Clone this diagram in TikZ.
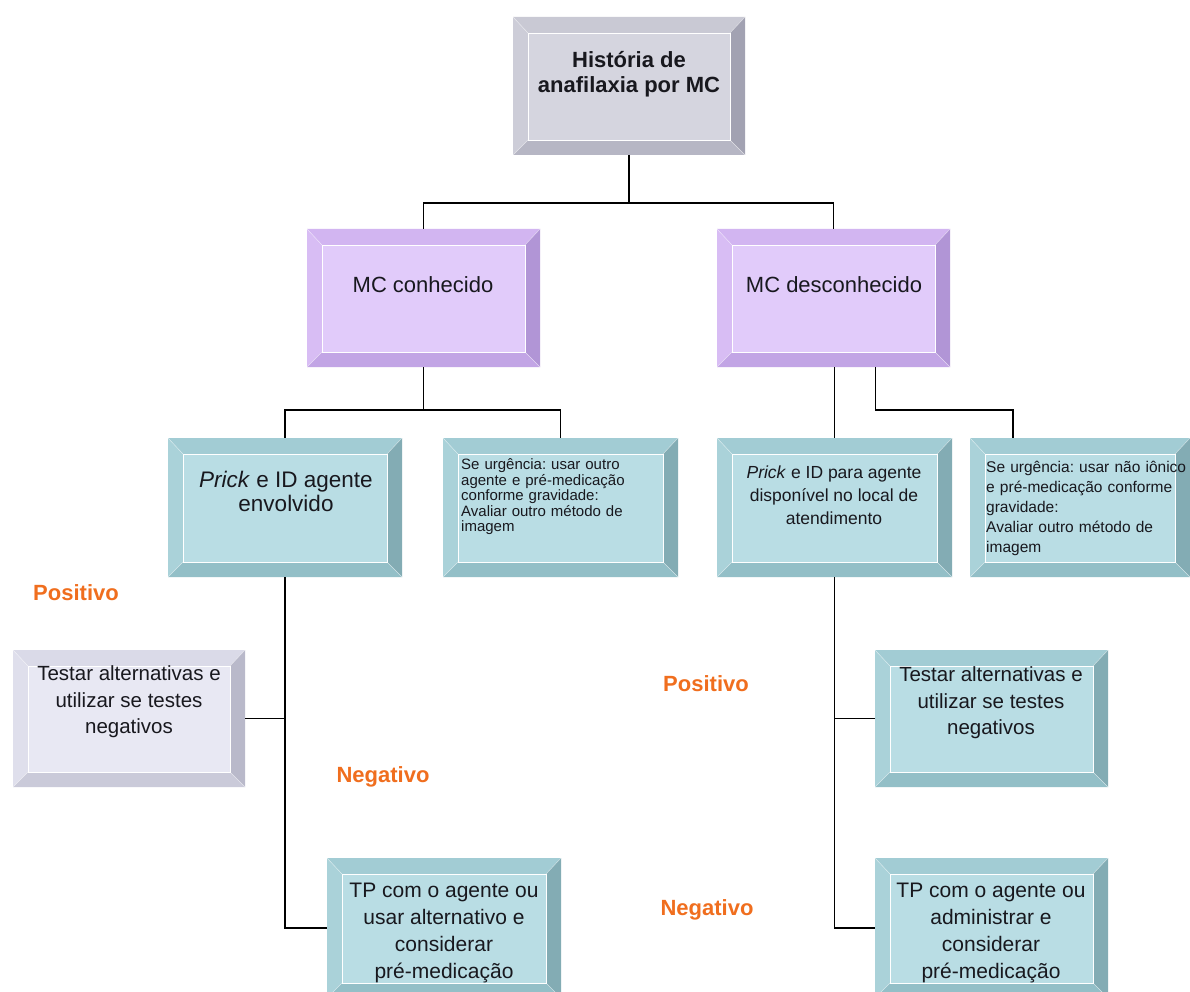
\documentclass[tikz,border=0pt]{standalone}
\usepackage{fontspec}
\setmainfont{Liberation Sans}
\usetikzlibrary{calc,fit}
\frenchspacing

% bevel colour families: face, top, left, right, bottom
\definecolor{grayF}{HTML}{D5D5DF}\definecolor{grayT}{HTML}{C9C9D4}\definecolor{grayL}{HTML}{CDCDD8}\definecolor{grayR}{HTML}{A2A2B2}\definecolor{grayB}{HTML}{B6B6C4}
\definecolor{purpF}{HTML}{E1CBFA}\definecolor{purpT}{HTML}{D2B5F1}\definecolor{purpL}{HTML}{D8BDF4}\definecolor{purpR}{HTML}{B195D6}\definecolor{purpB}{HTML}{C2A5E5}
\definecolor{tealF}{HTML}{B9DDE4}\definecolor{tealT}{HTML}{A2CCD4}\definecolor{tealL}{HTML}{AAD2D9}\definecolor{tealR}{HTML}{83ACB4}\definecolor{tealB}{HTML}{93BFC7}
\definecolor{lavF}{HTML}{E8E8F3}\definecolor{lavT}{HTML}{DADAE8}\definecolor{lavL}{HTML}{DFDFEC}\definecolor{lavR}{HTML}{B9B9CA}\definecolor{lavB}{HTML}{CACAD9}
\definecolor{txtc}{HTML}{18181E}
\definecolor{orangec}{HTML}{F06E1E}

% #1 name, #2 colour family, #3..#6 outer corners (x1,y1,x2,y2)
\newcommand\bevelbox[6]{%
  \node[fit={(#3,#4) (#5,#6)}, inner sep=0pt, outer sep=0pt] (#1) {};
  \fill[#2T] (#1.north west) -- (#1.north east) -- ($(#1.north east)+(-15,16)$) -- ($(#1.north west)+(15,16)$) -- cycle;
  \fill[#2L] (#1.north west) -- ($(#1.north west)+(15,16)$) -- ($(#1.south west)+(15,-15)$) -- (#1.south west) -- cycle;
  \fill[#2R] (#1.north east) -- (#1.south east) -- ($(#1.south east)+(-15,-15)$) -- ($(#1.north east)+(-15,16)$) -- cycle;
  \fill[#2B] (#1.south west) -- (#1.south east) -- ($(#1.south east)+(-15,-15)$) -- ($(#1.south west)+(15,-15)$) -- cycle;
  \draw[white, line width=0.5pt, opacity=0.5]
    (#1.north west) -- ($(#1.north west)+(15,16)$)
    (#1.north east) -- ($(#1.north east)+(-15,16)$)
    (#1.south west) -- ($(#1.south west)+(15,-15)$)
    (#1.south east) -- ($(#1.south east)+(-15,-15)$);
  \fill[#2F] ($(#1.north west)+(15,16)$) rectangle ($(#1.south east)+(-15,-15)$);
  \draw[white, line width=0.9pt] ($(#1.north west)+(15,16)$) rectangle ($(#1.south east)+(-15,-15)$);
}

\begin{document}
\begin{tikzpicture}[x=1pt, y=-1pt,
  conn/.style={draw=black, line width=1.1pt},
  txt/.style={inner sep=0pt, align=center, text=txtc},
  lefttxt/.style={inner sep=0pt, align=left, text=txtc, text width=225pt, anchor=west},
  tag/.style={inner sep=0pt, text=orangec, font=\fontsize{22}{26}\selectfont\bfseries}]
\useasboundingbox (0,0) rectangle (1190,992);
\clip (0,0) rectangle (1190,992);
\fill[white] (0,0) rectangle (1190,992);

% boxes
\bevelbox{top}{gray}{513}{17}{745}{155}
\bevelbox{mc1}{purp}{307}{229}{540}{367}
\bevelbox{mc2}{purp}{717}{229}{950}{367}
\bevelbox{p1}{teal}{168}{438}{402}{577}
\bevelbox{s1}{teal}{443}{438}{678}{577}
\bevelbox{p2}{teal}{717}{438}{952}{577}
\bevelbox{s2}{teal}{970}{438}{1190}{577}
\bevelbox{t1}{lav}{13}{650}{245}{787}
\bevelbox{t2}{teal}{875}{650}{1108}{787}
\bevelbox{tp1}{teal}{327}{858}{561}{998}
\bevelbox{tp2}{teal}{875}{858}{1108}{998}

% texts
\node[txt, font=\fontsize{22}{25}\selectfont\bfseries] (top-t) at (629,74) {História de\\anafilaxia por MC};
\node[txt, font=\fontsize{22}{25}\selectfont] (mc1-t) at (423,285) {MC conhecido};
\node[txt, font=\fontsize{22}{25}\selectfont] (mc2-t) at (834,285) {MC desconhecido};
\node[txt, font=\fontsize{22.5}{24}\selectfont] (p1-t) at (286,491) {\textit{Prick} e ID agente\\envolvido};
\node[lefttxt, font=\fontsize{15}{15.5}\selectfont] (s1-t) at (461,497) {Se urgência: usar outro\\agente e pré-medicação\\conforme gravidade:\\Avaliar outro método de\\imagem};
\node[txt, font=\fontsize{17.5}{23}\selectfont] (p2-t) at (834,495) {\textit{Prick} e ID para agente\\disponível no local de\\atendimento};
\node[lefttxt, font=\fontsize{15.5}{20}\selectfont] (s2-t) at (986,508) {Se urgência: usar não iônico\\e pré-medicação conforme\\gravidade:\\Avaliar outro método de\\imagem};
\node[txt, font=\fontsize{20.5}{26.5}\selectfont] (t1-t) at (129,702) {Testar alternativas e\\utilizar se testes\\negativos};
\node[txt, font=\fontsize{20.5}{26.5}\selectfont] (t2-t) at (991,703) {Testar alternativas e\\utilizar se testes\\negativos};
\node[txt, font=\fontsize{21}{26.7}\selectfont] (tp1-t) at (444,933) {TP com o agente ou\\usar alternativo e\\considerar\\pré-medicação};
\node[txt, font=\fontsize{21}{26.7}\selectfont] (tp2-t) at (991,933) {TP com o agente ou\\administrar e\\considerar\\pré-medicação};

% branch labels
\node[tag] (pos1) at (76,593) {Positivo};
\node[tag] (pos2) at (706,684) {Positivo};
\node[tag] (neg1) at (383,777) {Negativo};
\node[tag] (neg2) at (707,910) {Negativo};

% connectors
\coordinate (j0) at ($(top.south)+(0,48)$);
\draw[conn] (top.south) -- (j0);
\draw[conn] (j0) -| (mc1.north);
\draw[conn] (j0) -| (mc2.north);

\coordinate (j1) at ($(mc1.south)+(0,43)$);
\draw[conn] (mc1.south) -- (j1);
\draw[conn] (j1) -| (p1.north);
\draw[conn] (j1) -| (s1.north);

\draw[conn] (mc2.south -| p2.north) -- (p2.north);
\coordinate (m2r) at ($(mc2.south)+(42,0)$);
\coordinate (s2in) at ($(s2.north)+(-67,0)$);
\draw[conn] (m2r) -- ++(0,43) -| (s2in);

\draw[conn] (p1.south) |- (tp1.west);
\draw[conn] (t1.east) -- (t1.east -| p1.south);
\draw[conn] (p2.south) |- (tp2.west);
\draw[conn] (t2.west) -- (t2.west -| p2.south);
\end{tikzpicture}
\end{document}
